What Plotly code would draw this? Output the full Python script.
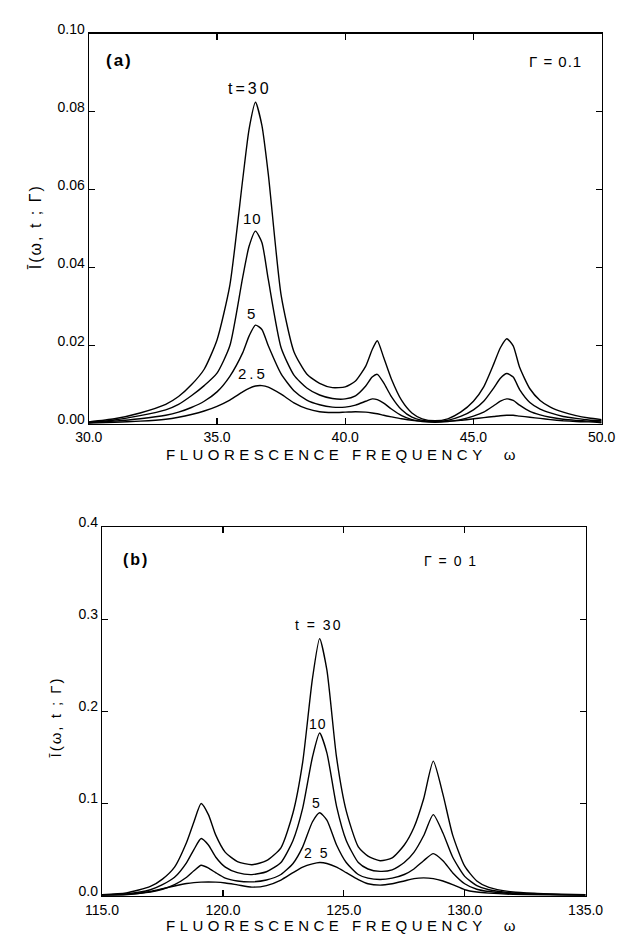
import plotly.graph_objects as go

W, H = 631, 939

# ---------------- panel (a) data ----------------
omega_a = [30, 31, 32, 33, 33.5, 34, 34.5, 35, 35.5, 36, 36.25, 36.5, 36.75, 37, 37.5, 38, 38.5, 39,
           39.5, 40, 40.4, 40.8, 41.05, 41.25, 41.5, 41.8, 42.2, 42.6, 43, 43.5, 44, 44.5, 45, 45.4,
           45.8, 46.05, 46.3, 46.55, 46.8, 47.2, 47.6, 48, 48.5, 49, 49.5, 50]
a_t30 = [0.0005, 0.0013, 0.0028, 0.0050, 0.0070, 0.0100, 0.0140, 0.0215, 0.0355, 0.0625, 0.0755, 0.0824,
         0.0765, 0.0640, 0.0330, 0.0185, 0.0128, 0.0104, 0.0093, 0.0095, 0.0110, 0.0148, 0.0190, 0.0213,
         0.0170, 0.0115, 0.0060, 0.0028, 0.0013, 0.0008, 0.0013, 0.0030, 0.0058, 0.0095, 0.0155, 0.0195,
         0.0218, 0.0200, 0.0145, 0.0090, 0.0060, 0.0043, 0.0030, 0.0021, 0.0015, 0.0011]
a_t10 = [0.0004, 0.0010, 0.0021, 0.0036, 0.0050, 0.0072, 0.0098, 0.0130, 0.0200, 0.0375, 0.0455, 0.0494,
         0.0465, 0.0370, 0.0195, 0.0125, 0.0092, 0.0074, 0.0065, 0.0064, 0.0072, 0.0097, 0.0120, 0.0127,
         0.0105, 0.0070, 0.0036, 0.0017, 0.0009, 0.0006, 0.0009, 0.0019, 0.0036, 0.0058, 0.0093, 0.0117,
         0.0129, 0.0120, 0.0088, 0.0055, 0.0038, 0.0028, 0.0019, 0.0014, 0.0010, 0.0008]
a_t5 = [0.0003, 0.0007, 0.0013, 0.0022, 0.0030, 0.0042, 0.0058, 0.0082, 0.0122, 0.0182, 0.0225, 0.0253,
        0.0242, 0.0200, 0.0128, 0.0085, 0.0061, 0.0049, 0.0043, 0.0043, 0.0048, 0.0058, 0.0064, 0.0062,
        0.0053, 0.0038, 0.0021, 0.0011, 0.0006, 0.0004, 0.0006, 0.0011, 0.0020, 0.0030, 0.0047, 0.0058,
        0.0064, 0.0060, 0.0048, 0.0032, 0.0023, 0.0017, 0.0012, 0.0009, 0.0007, 0.0005]
a_t25 = [0.0002, 0.0004, 0.0007, 0.0012, 0.0017, 0.0024, 0.0033, 0.0045, 0.0061, 0.0082, 0.0091, 0.0097,
         0.0098, 0.0094, 0.0076, 0.0054, 0.0039, 0.0031, 0.0029, 0.0030, 0.0031, 0.0030, 0.0028, 0.0026,
         0.0022, 0.0018, 0.0013, 0.0009, 0.0007, 0.0006, 0.0007, 0.0009, 0.0013, 0.0016, 0.0019, 0.0021,
         0.0022, 0.0022, 0.0020, 0.0017, 0.0014, 0.0011, 0.0008, 0.0006, 0.0005, 0.0003]

# ---------------- panel (b) data ----------------
omega_b = [115, 116, 117, 117.5, 118, 118.5, 118.8, 119.1, 119.4, 119.7, 120.1, 120.6, 121.2, 121.8,
           122.4, 122.9, 123.3, 123.7, 124.0, 124.3, 124.7, 125.1, 125.6, 126.0, 126.5, 127.0, 127.5,
           127.9, 128.3, 128.7, 129.1, 129.5, 130.0, 130.5, 131.0, 132.0, 133.0, 134.0, 135.0]
b_t30 = [0.001, 0.003, 0.010, 0.018, 0.031, 0.058, 0.080, 0.100, 0.088, 0.066, 0.047, 0.037, 0.0336,
         0.038, 0.052, 0.090, 0.145, 0.235, 0.279, 0.245, 0.150, 0.092, 0.053, 0.043, 0.038, 0.041,
         0.055, 0.074, 0.105, 0.146, 0.110, 0.066, 0.032, 0.016, 0.009, 0.004, 0.0025, 0.0015, 0.001]
b_t10 = [0.0008, 0.002, 0.0065, 0.012, 0.020, 0.036, 0.050, 0.062, 0.055, 0.042, 0.031, 0.025, 0.0229,
         0.026, 0.036, 0.060, 0.095, 0.150, 0.1765, 0.155, 0.097, 0.060, 0.036, 0.029, 0.0264, 0.028,
         0.036, 0.047, 0.065, 0.088, 0.068, 0.042, 0.021, 0.011, 0.0065, 0.003, 0.002, 0.0012, 0.0008]
b_t5 = [0.0006, 0.0015, 0.004, 0.007, 0.012, 0.020, 0.027, 0.033, 0.030, 0.025, 0.019, 0.016, 0.015,
        0.017, 0.023, 0.035, 0.053, 0.080, 0.090, 0.082, 0.055, 0.036, 0.023, 0.019, 0.0175, 0.019,
        0.023, 0.029, 0.038, 0.0457, 0.038, 0.025, 0.013, 0.007, 0.0045, 0.0022, 0.0015, 0.001, 0.0006]
b_t25 = [0.0004, 0.001, 0.0045, 0.0075, 0.0105, 0.0132, 0.0142, 0.0147, 0.0149, 0.0147, 0.0138, 0.0118,
         0.0093, 0.011, 0.017, 0.025, 0.031, 0.0345, 0.036, 0.035, 0.031, 0.025, 0.0175, 0.013, 0.0115,
         0.013, 0.016, 0.0185, 0.0193, 0.0185, 0.016, 0.012, 0.0065, 0.004, 0.0028, 0.0015, 0.001,
         0.0007, 0.0004]

xticks_a = [30, 35, 40, 45, 50]
yticks_a = [0.0, 0.02, 0.04, 0.06, 0.08, 0.10]
xticks_b = [115, 120, 125, 130, 135]
yticks_b = [0.0, 0.1, 0.2, 0.3, 0.4]


def px(x, y):
    return x / W, 1 - y / H


def spaced(text, sp):
    return f'<span style="letter-spacing:{sp}px">{text}</span>'


FONT = "Liberation Sans, Arial, sans-serif"
fig = go.Figure()

line = dict(color="black", width=1.4, shape="spline", smoothing=0.6)
for ys in (a_t30, a_t10, a_t5, a_t25):
    fig.add_trace(go.Scatter(x=omega_a, y=ys, mode="lines", line=line,
                             xaxis="x", yaxis="y", showlegend=False, hoverinfo="skip"))
for ys in (b_t30, b_t10, b_t5, b_t25):
    fig.add_trace(go.Scatter(x=omega_b, y=ys, mode="lines", line=line,
                             xaxis="x2", yaxis="y2", showlegend=False, hoverinfo="skip"))

ax_common = dict(showline=True, mirror="ticks", linecolor="black", linewidth=1.2,
                 ticks="inside", ticklen=6, tickcolor="black", tickwidth=1.2,
                 showgrid=False, zeroline=False,
                 tickfont=dict(family=FONT, size=14, color="black"))

xa0, _ = px(76, 0)
xa1, _ = px(619, 0)
_, ya0 = px(0, 418)
_, ya1 = px(0, 21)
xb0, _ = px(90, 0)
xb1, _ = px(602, 0)
_, yb0 = px(0, 898)
_, yb1 = px(0, 523)

fig.update_layout(
    width=W, height=H, margin=dict(l=0, r=0, t=0, b=0),
    paper_bgcolor="white", plot_bgcolor="white", hovermode=False,
    xaxis=dict(domain=[xa0, xa1], range=[30, 50], tickvals=xticks_a,
               ticktext=[f"{v:.1f}" for v in xticks_a], anchor="y", ticklabelstandoff=0,
               **ax_common),
    yaxis=dict(domain=[ya0, ya1], range=[0, 0.10], tickvals=yticks_a,
               ticktext=[f"{v:.2f}" for v in yticks_a], anchor="x", ticklabelstandoff=0,
               ticklabelshift=-5, **ax_common),
    xaxis2=dict(domain=[xb0, xb1], range=[115, 135], tickvals=xticks_b,
                ticktext=[f"{v:.1f}" for v in xticks_b], anchor="y2", ticklabelstandoff=1,
                **ax_common),
    yaxis2=dict(domain=[yb0, yb1], range=[0, 0.4], tickvals=yticks_b,
                ticktext=[f"{v:.1f}" for v in yticks_b], anchor="x2", ticklabelstandoff=0,
                ticklabelshift=-5, **ax_common),
)

anns = [
    # (text, px_x, px_y, size, letter spacing)
    ("<b>(a)</b>", 108, 48, 17, 2),
    ("Γ = 0.1", 570, 49, 15, 1),
    ("t=30", 247, 77, 16, 3),
    ("10", 249, 209, 15, 1),
    ("5", 248, 306, 15, 0),
    ("2.5", 250, 367, 15, 3),
    ("<b>(b)</b>", 126, 556, 16, 2),
    ("Γ = 0 1", 459, 557, 14, 1.5),
    ("t = 30", 319, 623, 14, 2),
    ("10", 319, 723, 14, 1),
    ("5", 317, 804, 14, 0),
    ("2 5", 317, 855, 14, 2),
]
for text, x, y, size, sp in anns:
    ax_, ay_ = px(x, y)
    fig.add_annotation(text=spaced(text, sp), x=ax_, y=ay_, xref="paper", yref="paper",
                       showarrow=False, xanchor="center", yanchor="middle",
                       font=dict(family=FONT, size=size, color="black"))

# axis titles
for (x, y) in [(345, 449), (345, 928)]:
    ax_, ay_ = px(x, y)
    fig.add_annotation(text=spaced("FLUORESCENCE FREQUENCY  ω", 4.5),
                       x=ax_, y=ay_, xref="paper", yref="paper", showarrow=False,
                       xanchor="center", yanchor="middle",
                       font=dict(family=FONT, size=15, color="black"))
for (x, y, s) in [(19, 217, 16), (41, 716, 15)]:
    ax_, ay_ = px(x, y)
    fig.add_annotation(text=spaced("Ī(ω, t ; Γ)", 2), x=ax_, y=ay_, xref="paper", yref="paper",
                       showarrow=False, textangle=-90, xanchor="center", yanchor="middle",
                       font=dict(family=FONT, size=s, color="black"))

fig.write_html("out.html", config={"displayModeBar": False, "staticPlot": True},
               post_script="document.body.style.margin='0';document.body.style.overflow='hidden';")
